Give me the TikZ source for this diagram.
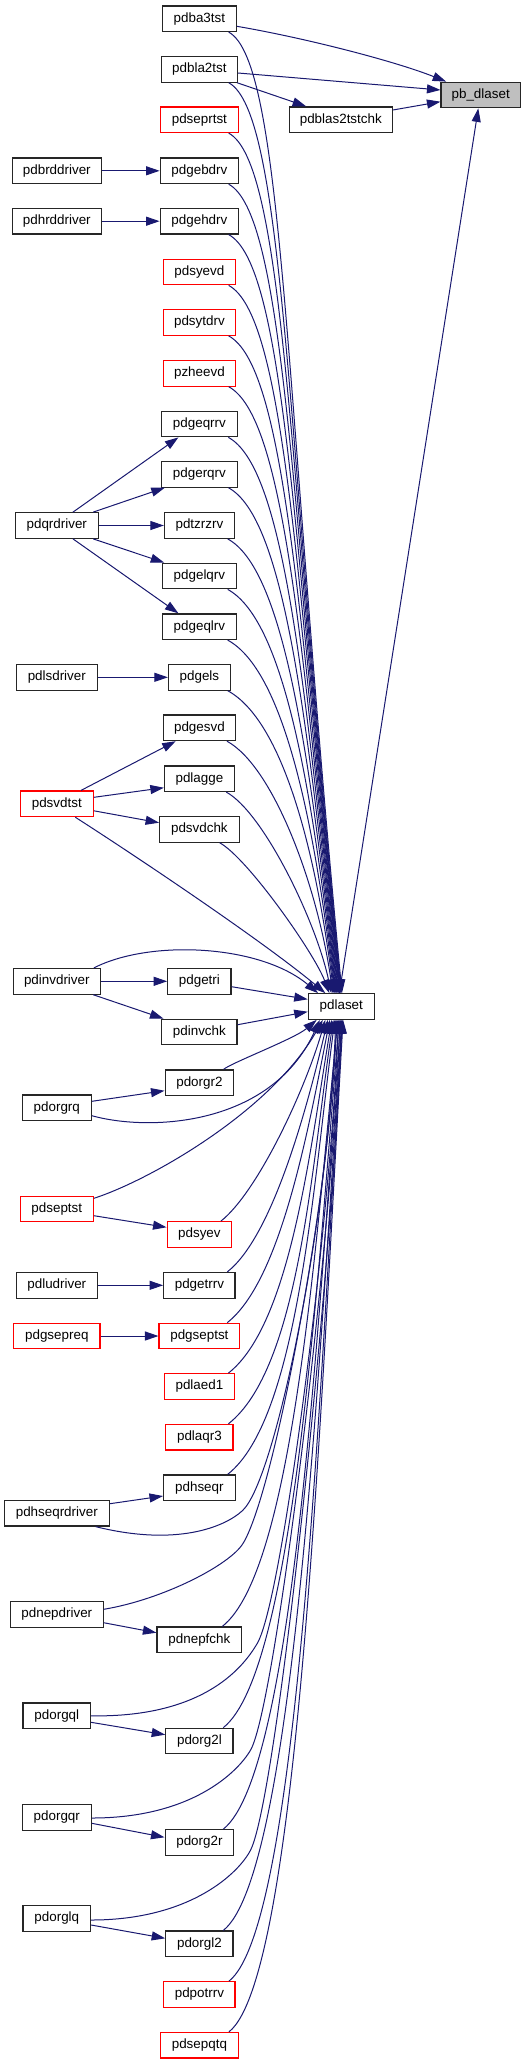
\documentclass[tikz,border=0pt]{standalone}
\usepackage{fontspec}
\setmainfont{Liberation Sans}
\usetikzlibrary{arrows.meta,calc}
\definecolor{edgeblue}{HTML}{191970}
\definecolor{boxgray}{HTML}{BFBFBF}
\tikzset{
  box/.style={draw=black!85, line width=1.2pt, fill=white, minimum height=25.6pt, inner sep=0pt,
    font=\fontsize{13.4}{15}\selectfont, text=black},
  redbox/.style={box, draw=red},
  edge/.style={draw=edgeblue, line width=1pt, -{Triangle[length=13.5pt,width=9pt]}},
}
% middle node above pdlaset -> pdlaset top
\newcommand\edgeA[4]{%
  \pgfmathsetmacro\dyA{980.9-#4}%
  \pgfmathsetmacro\fA{min(1,\dyA/300)}%
  \pgfmathsetmacro\nA{max(40,0.7*\dyA-70)}%
  \pgfmathsetmacro\mA{max(15,0.06*\dyA)}%
  \draw[edge] ($(#1.south)+(#2,0)$) .. controls +(55*\fA,30*\fA) and +(-\mA,-\nA) .. ($(pdlaset.north)+(#3,0)$);%
}
% middle node below pdlaset -> pdlaset bottom
\newcommand\edgeB[4]{%
  \pgfmathsetmacro\dyB{#4-1032.1}%
  \pgfmathsetmacro\fB{min(1,\dyB/400)}%
  \pgfmathsetmacro\nB{0.37*\dyB}%
  \draw[edge] ($(#1.north)+(#2,0)$) .. controls +(70*\fB,-55*\fB) and +(-22,\nB) .. ($(pdlaset.south)+(#3,0)$);%
}
\begin{document}
\begin{tikzpicture}[x=1pt,y=-1pt]
\fill[white] (0,0) rectangle (527,2064);
\useasboundingbox (0,0) rectangle (527,2064);

% right nodes
\node[box, fill=boxgray, minimum width=79.3pt] (pb_dlaset) at (480.7,95) {pb\_dlaset};
\node[box, minimum width=103pt] (pdblas2tstchk) at (340.8,119.7) {pdblas2tstchk};
\node[box, minimum width=66pt] (pdlaset) at (341.3,1006.5) {pdlaset};

% middle column
\node[box, minimum width=73.7pt] (pdba3tst) at (199.4,18.7) {pdba3tst};
\node[box, minimum width=76pt] (pdbla2tst) at (199.4,69.3) {pdbla2tst};
\node[redbox, minimum width=77.7pt] (pdseprtst) at (199.4,119.7) {pdseprtst};
\node[box, minimum width=78.4pt] (pdgebdrv) at (199.4,170.8) {pdgebdrv};
\node[box, minimum width=78.4pt] (pdgehdrv) at (199.4,221.2) {pdgehdrv};
\node[redbox, minimum width=72.6pt] (pdsyevd) at (199.4,272) {pdsyevd};
\node[redbox, minimum width=72.6pt] (pdsytdrv) at (199.4,322.5) {pdsytdrv};
\node[redbox, minimum width=72.6pt] (pzheevd) at (199.4,373.3) {pzheevd};
\node[box, minimum width=75.6pt] (pdgeqrrv) at (199.4,424) {pdgeqrrv};
\node[box, minimum width=75.6pt] (pdgerqrv) at (199.4,474.3) {pdgerqrv};
\node[box, minimum width=69.9pt] (pdtzrzrv) at (199.4,525.5) {pdtzrzrv};
\node[box, minimum width=74pt] (pdgelqrv) at (199.4,576) {pdgelqrv};
\node[box, minimum width=74.3pt] (pdgeqlrv) at (199.4,626.7) {pdgeqlrv};
\node[box, minimum width=61.8pt] (pdgels) at (199.4,677.3) {pdgels};
\node[box, minimum width=72.6pt] (pdgesvd) at (199.4,727.8) {pdgesvd};
\node[box, minimum width=69.9pt] (pdlagge) at (199.4,778.7) {pdlagge};
\node[box, minimum width=79.4pt] (pdsvdchk) at (199.4,829.3) {pdsvdchk};
\node[box, minimum width=63.2pt] (pdgetri) at (199.4,981.3) {pdgetri};
\node[box, minimum width=75.3pt] (pdinvchk) at (199.4,1032) {pdinvchk};
\node[box, minimum width=68.6pt] (pdorgr2) at (199.4,1082.7) {pdorgr2};
\node[redbox, minimum width=64.5pt] (pdsyev) at (199.4,1234.5) {pdsyev};
\node[box, minimum width=71.3pt] (pdgetrrv) at (199.4,1285.3) {pdgetrrv};
\node[redbox, minimum width=80.7pt] (pdgseptst) at (199.4,1336) {pdgseptst};
\node[redbox, minimum width=69.9pt] (pdlaed1) at (199.4,1386.5) {pdlaed1};
\node[redbox, minimum width=67.2pt] (pdlaqr3) at (199.4,1437.2) {pdlaqr3};
\node[box, minimum width=71.6pt] (pdhseqr) at (199.4,1487.7) {pdhseqr};
\node[box, minimum width=84.8pt] (pdnepfchk) at (199.4,1639.8) {pdnepfchk};
\node[box, minimum width=67.2pt] (pdorg2l) at (199.4,1741) {pdorg2l};
\node[box, minimum width=68.6pt] (pdorg2r) at (199.4,1842.5) {pdorg2r};
\node[box, minimum width=67.2pt] (pdorgl2) at (199.4,1943.8) {pdorgl2};
\node[redbox, minimum width=71.3pt] (pdpotrrv) at (199.4,1994.5) {pdpotrrv};
\node[redbox, minimum width=78.3pt] (pdsepqtq) at (199.4,2045.2) {pdsepqtq};

% left column
\node[box, minimum width=89pt] (pdbrddriver) at (56.8,170.8) {pdbrddriver};
\node[box, minimum width=89pt] (pdhrddriver) at (56.8,221.2) {pdhrddriver};
\node[box, minimum width=83.1pt] (pdqrdriver) at (56.8,525.5) {pdqrdriver};
\node[box, minimum width=80.7pt] (pdlsdriver) at (56.8,677.3) {pdlsdriver};
\node[redbox, minimum width=73pt] (pdsvdtst) at (56.8,803.8) {pdsvdtst};
\node[box, minimum width=87.1pt] (pdinvdriver) at (56.8,981.3) {pdinvdriver};
\node[box, minimum width=68.9pt] (pdorgrq) at (56.8,1107.8) {pdorgrq};
\node[redbox, minimum width=73pt] (pdseptst) at (56.8,1209) {pdseptst};
\node[box, minimum width=81.1pt] (pdludriver) at (56.8,1285.3) {pdludriver};
\node[redbox, minimum width=86.2pt] (pdgsepreq) at (56.8,1336) {pdgsepreq};
\node[box, minimum width=105.1pt] (pdhseqrdriver) at (56.8,1513.2) {pdhseqrdriver};
\node[box, minimum width=92.6pt] (pdnepdriver) at (56.8,1614.5) {pdnepdriver};
\node[box, minimum width=67.5pt] (pdorgql) at (56.8,1715.8) {pdorgql};
\node[box, minimum width=68.9pt] (pdorgqr) at (56.8,1817.3) {pdorgqr};
\node[box, minimum width=67.5pt] (pdorglq) at (56.8,1918.5) {pdorglq};

% knee coordinates of the long left curves
\coordinate (kh) at ($(pdhseqrdriver.south)+(185.7,-16)$);
\coordinate (kn) at ($(pdnepdriver.east)+(139.4,-71.2)$);
\coordinate (kq) at ($(pdorgql.east)+(166.15,-72.5)$);
\coordinate (kr) at ($(pdorgqr.east)+(158.75,-67.3)$);
\coordinate (kl) at ($(pdorglq.east)+(159.45,-68.5)$);

% top edges
\draw[edge] ($(pdba3tst.east)+(0,7.6)$) .. controls +(70,12) and +(-50,-20) .. ($(pb_dlaset.north west)+(5.7,0)$);
\draw[edge] ($(pdbla2tst.east)+(0,3.7)$) -- ($(pb_dlaset.west)+(0,-5)$);
\draw[edge] ($(pdbla2tst.south east)+(-1,0)$) -- ($(pdblas2tstchk.north west)+(17.4,0)$);
\draw[edge] ($(pdblas2tstchk.east)+(0,-9.7)$) -- ($(pb_dlaset.west)+(0,6.7)$);
\draw[edge] ($(pdlaset.north)+(-2,0)$) -- ($(pb_dlaset.south)+(-2.4,0)$);

% left -> middle short edges
\draw[edge] (pdbrddriver.east) -- (pdgebdrv.west);
\draw[edge] (pdhrddriver.east) -- (pdgehdrv.west);
\draw[edge] ($(pdqrdriver.north)+(16.2,0)$) -- ($(pdgeqrrv.south)+(-21,0)$);
\draw[edge] ($(pdqrdriver.north)+(36.4,0)$) -- ($(pdgerqrv.south)+(-34.6,0)$);
\draw[edge] (pdqrdriver.east) -- (pdtzrzrv.west);
\draw[edge] ($(pdqrdriver.south)+(36.4,0)$) -- ($(pdgelqrv.north)+(-35.2,0)$);
\draw[edge] ($(pdqrdriver.south)+(16.2,0)$) -- ($(pdgeqlrv.north)+(-21,0)$);
\draw[edge] (pdlsdriver.east) -- (pdgels.west);
\draw[edge] ($(pdsvdtst.north)+(24.2,0)$) -- ($(pdgesvd.south)+(-23.7,0)$);
\draw[edge] ($(pdsvdtst.east)+(0,-6.5)$) -- ($(pdlagge.west)+(0,9)$);
\draw[edge] ($(pdsvdtst.east)+(0,7)$) -- ($(pdsvdchk.west)+(0,-6.6)$);
\draw[edge] (pdinvdriver.east) -- (pdgetri.west);
\draw[edge] ($(pdinvdriver.south)+(36.4,0)$) -- ($(pdinvchk.north)+(-35.9,0)$);
\draw[edge] ($(pdorgrq.east)+(0,-6.5)$) -- ($(pdorgr2.west)+(0,8)$);
\draw[edge] ($(pdseptst.east)+(0,6.7)$) -- ($(pdsyev.west)+(0,-7.2)$);
\draw[edge] (pdludriver.east) -- (pdgetrrv.west);
\draw[edge] (pdgsepreq.east) -- (pdgseptst.west);
\draw[edge] ($(pdhseqrdriver.east)+(0,-9.5)$) -- ($(pdhseqr.west)+(0,8.3)$);
\draw[edge] ($(pdnepdriver.east)+(0,8.2)$) -- ($(pdnepfchk.west)+(0,-7.1)$);
\draw[edge] ($(pdorgql.east)+(0,6.5)$) -- ($(pdorg2l.west)+(0,-6.3)$);
\draw[edge] ($(pdorgqr.east)+(0,6)$) -- ($(pdorg2r.west)+(0,-5.2)$);
\draw[edge] ($(pdorglq.east)+(0,6.5)$) -- ($(pdorgl2.west)+(0,-5.5)$);

% straight edges into pdlaset
\draw[edge] ($(pdgetri.east)+(0,5.4)$) -- ($(pdlaset.west)+(0,-7.2)$);
\draw[edge] ($(pdinvchk.east)+(0,-7.3)$) -- ($(pdlaset.west)+(0,5.2)$);

% middle nodes above pdlaset
\edgeA{pdba3tst}{29.3}{0.7}{18.7}
\edgeA{pdbla2tst}{29.3}{0}{69.3}
\edgeA{pdseprtst}{29.3}{-0.5}{119.7}
\edgeA{pdgebdrv}{29.3}{-1}{170.8}
\edgeA{pdgehdrv}{29.3}{-1.5}{221.2}
\edgeA{pdsyevd}{29.3}{-2}{272}
\edgeA{pdsytdrv}{29.3}{-2.7}{322.5}
\edgeA{pzheevd}{29.3}{-3.3}{373.3}
\edgeA{pdgeqrrv}{29}{-4}{424}
\edgeA{pdgerqrv}{29}{-4.7}{474.3}
\edgeA{pdtzrzrv}{28.3}{-5.3}{525.5}
\edgeA{pdgelqrv}{28.3}{-6}{576}
\edgeA{pdgeqlrv}{28.3}{-6.7}{626.7}
\edgeA{pdgels}{28.3}{-7.5}{677.3}
\edgeA{pdgesvd}{27.6}{-8.5}{727.8}
\edgeA{pdlagge}{26.9}{-10}{778.7}
\edgeA{pdsvdchk}{20.2}{-12}{829.3}

% left nodes above pdlaset
\draw[edge] ($(pdsvdtst.south)+(18.5,0)$) .. controls +(70,45) and +(-60,-50) .. ($(pdlaset.north)+(-16,0)$);
\draw[edge] ($(pdinvdriver.north)+(37.1,0)$) .. controls +(56,-28.7) and +(-58,-48.7) .. ($(pdlaset.north)+(-23.3,0)$);

% left nodes below pdlaset
\draw[edge] ($(pdorgrq.east)+(0,7.9)$) .. controls +(58.8,16.3) and +(-48.3,105.7) .. ($(pdlaset.south)+(-21.5,0)$);
\draw[edge] ($(pdseptst.east)+(0,-10.7)$) .. controls +(56.7,-18.3) and +(-51.3,90.7) .. ($(pdlaset.south)+(-18.5,0)$);
\draw[edge] ($(pdhseqrdriver.south)+(38.8,0)$) .. controls +(80,20) and +(-18.4,16.9) .. (kh)
   .. controls +(33.1,-30.5) and +(-8,200) .. ($(pdlaset.south)+(-5.5,0)$);
\draw[edge] ($(pdnepdriver.east)+(0,-5.2)$) .. controls +(60,-10) and +(-13,21.4) .. (kn)
   .. controls +(31.2,-51.2) and +(-8,180) .. ($(pdlaset.south)+(-4.5,0)$);
\draw[edge] (pdorgql.east) .. controls +(115,2) and +(-12.65,21.6) .. (kq)
   .. controls +(25.3,-43.1) and +(-8,200) .. ($(pdlaset.south)+(-2.8,0)$);
\draw[edge] ($(pdorgqr.east)+(0,0.7)$) .. controls +(100,0) and +(-12.5,21.65) .. (kr)
   .. controls +(25,-43.3) and +(-8,220) .. ($(pdlaset.south)+(-1.3,0)$);
\draw[edge] ($(pdorglq.east)+(0,1.5)$) .. controls +(100,0) and +(-11.25,22.25) .. (kl)
   .. controls +(27,-53.4) and +(-8,240) .. ($(pdlaset.south)+(0,0)$);

% middle nodes below pdlaset
\edgeB{pdorgr2}{24.2}{-24.6}{1082.7}
\edgeB{pdsyev}{21.5}{-16}{1234.5}
\edgeB{pdgetrrv}{27.9}{-13.5}{1285.3}
\edgeB{pdgseptst}{27.9}{-11.5}{1336}
\edgeB{pdlaed1}{29}{-9.5}{1386.5}
\edgeB{pdlaqr3}{29}{-8}{1437.2}
\edgeB{pdhseqr}{28.3}{-6.5}{1487.7}
\edgeB{pdnepfchk}{22.9}{-3.5}{1639.8}
\edgeB{pdorg2l}{23.9}{-2}{1741}
\edgeB{pdorg2r}{23.9}{-0.6}{1842.5}
\edgeB{pdorgl2}{23.9}{0.6}{1943.8}
\edgeB{pdpotrrv}{29.6}{1.2}{1994.5}
\edgeB{pdsepqtq}{29.6}{1.8}{2045.2}
\end{tikzpicture}
\end{document}
